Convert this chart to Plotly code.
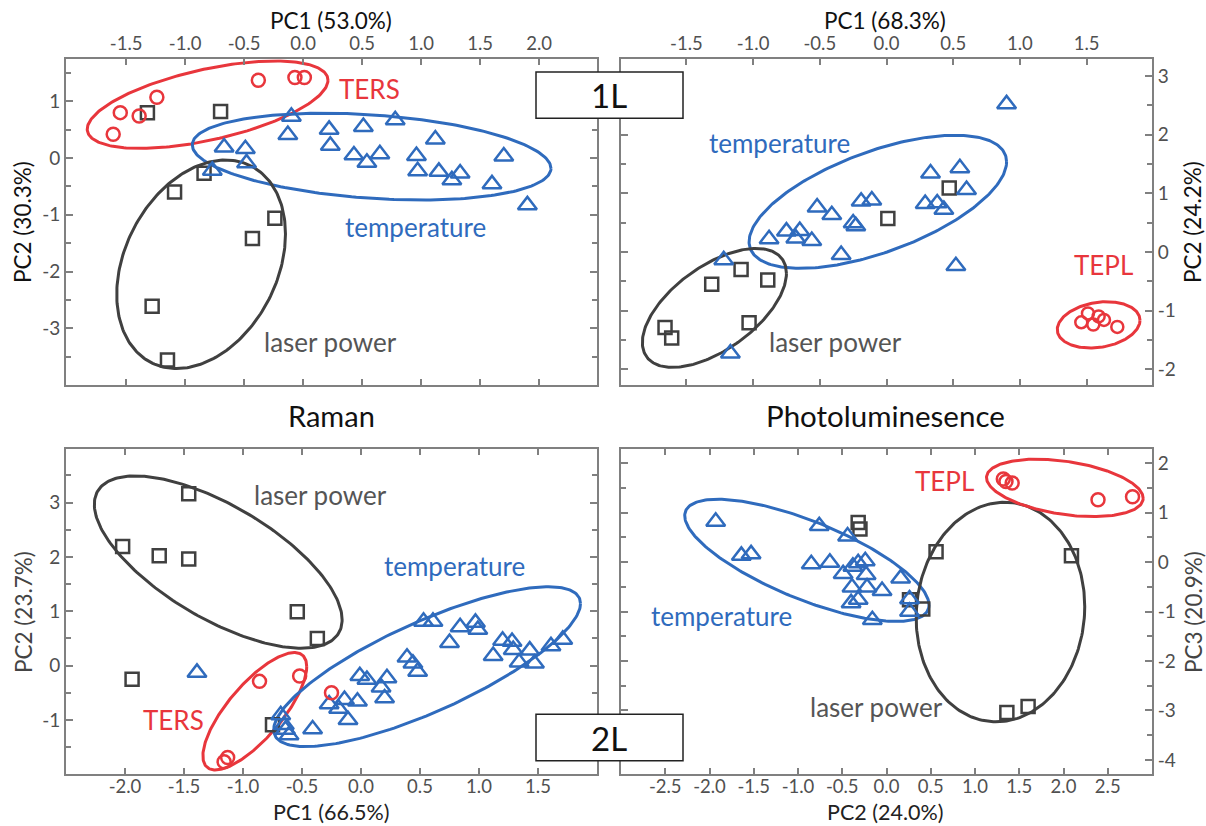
import numpy as np
import plotly.graph_objects as go

# ---------------- data ----------------
# Panel 1: Raman 1L (PC1 vs PC2)
r1_ters_x = [-1.61, -1.55, -1.39, -1.24, -0.38, -0.07, 0.01]
r1_ters_y = [0.42, 0.80, 0.74, 1.07, 1.37, 1.42, 1.42]
r1_laser_x = [-1.32, -0.70, -0.84, -1.09, -0.24, -0.43, -1.28, -1.15]
r1_laser_y = [0.80, 0.82, -0.27, -0.60, -1.06, -1.42, -2.61, -3.56]
r1_temp_x = [-0.10, -0.13, -0.67, -0.49, -0.48, -0.77, 0.22, 0.23, 0.51, 0.78, 0.43,
             0.54, 0.65, 0.96, 0.97, 1.12, 1.15, 1.26, 1.33, 1.70, 1.60, 1.90]
r1_temp_y = [0.73, 0.41, 0.19, 0.16, -0.09, -0.22, 0.50, 0.22, 0.55, 0.67, 0.05,
             -0.08, 0.07, 0.04, -0.23, 0.33, -0.24, -0.39, -0.27, 0.03, -0.46, -0.83]

# Panel 2: Photoluminescence 1L (PC1 vs PC2)
pl1_tepl_x = [1.46, 1.51, 1.55, 1.59, 1.63, 1.73]
pl1_tepl_y = [-1.20, -1.05, -1.24, -1.10, -1.16, -1.28]
pl1_laser_x = [0.47, 0.01, -1.09, -1.31, -0.89, -1.03, -1.66, -1.61]
pl1_laser_y = [1.09, 0.57, -0.30, -0.55, -0.48, -1.21, -1.29, -1.47]
pl1_temp_x = [0.90, 0.33, 0.55, 0.60, 0.29, 0.38, 0.43, -0.19, -0.11, -0.52, -0.41,
              -0.25, -0.23, -0.88, -0.75, -0.68, -0.65, -0.56, -0.34, 0.52, -1.22, -1.17]
pl1_temp_y = [2.52, 1.34, 1.43, 1.06, 0.82, 0.83, 0.72, 0.86, 0.88, 0.76, 0.63,
              0.49, 0.44, 0.22, 0.35, 0.23, 0.36, 0.19, -0.05, -0.24, -0.14, -1.73]

# Panel 3: Raman 2L (PC1 vs PC2)
r2_laser_x = [-1.46, -2.02, -1.71, -1.46, -0.54, -0.37, -1.94, -0.75]
r2_laser_y = [3.16, 2.19, 2.02, 1.96, 0.99, 0.50, -0.25, -1.09]
r2_ters_x = [-0.86, -0.52, -0.25, -1.13, -1.16]
r2_ters_y = [-0.29, -0.19, -0.50, -1.69, -1.77]
r2_temp_x = [-1.39, -0.68, -0.65, -0.64, -0.61, -0.41, -0.27, -0.14, -0.19, -0.11, -0.03,
             -0.01, 0.05, 0.17, 0.22, 0.20, 0.39, 0.44, 0.48, 0.53, 0.61, 0.75, 0.84,
             0.97, 0.99, 1.12, 1.20, 1.28, 1.29, 1.34, 1.43, 1.47, 1.61, 1.71]
r2_temp_y = [-0.13, -0.91, -1.09, -1.18, -1.28, -1.17, -0.71, -0.63, -0.79, -1.00, -0.66,
             -0.19, -0.26, -0.40, -0.23, -0.60, 0.15, 0.04, -0.11, 0.81, 0.81, 0.42, 0.71,
             0.79, 0.66, 0.18, 0.46, 0.44, 0.29, 0.06, 0.28, 0.04, 0.36, 0.48]

# Panel 4: Photoluminescence 2L (PC2 vs PC3)
pl2_tepl_x = [1.32, 1.35, 1.42, 2.39, 2.78]
pl2_tepl_y = [1.68, 1.63, 1.60, 1.26, 1.32]
pl2_laser_x = [-0.32, -0.30, 0.56, 2.09, 0.26, 0.41, 1.36, 1.60]
pl2_laser_y = [0.80, 0.67, 0.21, 0.13, -0.76, -0.95, -3.04, -2.92]
pl2_temp_x = [-1.93, -1.64, -1.53, -0.76, -0.44, -0.85, -0.64, -0.49, -0.38, -0.32, -0.24,
              -0.23, -0.39, -0.22, -0.05, -0.40, -0.32, -0.16, 0.16, 0.26, 0.26]
pl2_temp_y = [0.82, 0.13, 0.16, 0.73, 0.52, -0.04, -0.01, -0.24, -0.09, -0.02, 0.02,
              -0.26, -0.51, -0.51, -0.58, -0.83, -0.76, -1.17, -0.33, -0.75, -1.00]

# Cluster ellipses: [xmin, xmax, ymin, ymax, tilt]
r1_ell_ters = [-1.83, 0.21, 0.17, 1.71, 0.56]
r1_ell_temp = [-0.94, 2.10, -0.74, 0.79, -0.27]
r1_ell_laser = [-1.58, -0.15, -3.71, -0.035, 0.29]
pl1_ell_temp = [-1.03, 0.90, -0.28, 1.99, 0.60]
pl1_ell_laser = [-1.83, -0.75, -1.97, 0.06, 0.58]
pl1_ell_tepl = [1.28, 1.90, -1.64, -0.85, 0.20]
r2_ell_laser = [-2.26, -0.16, 0.32, 3.49, -0.67]
r2_ell_ters = [-1.34, -0.46, -1.92, 0.24, 0.76]
r2_ell_temp = [-0.74, 1.86, -1.49, 1.45, 0.79]
pl2_ell_temp = [-2.28, 0.48, -1.20, 1.27, -0.73]
pl2_ell_laser = [0.335, 2.24, -3.23, 1.21, 0.05]
pl2_ell_tepl = [1.13, 2.90, 0.92, 2.08, -0.36]

# Tick values
p1_xticks = [-1.5, -1.0, -0.5, 0.0, 0.5, 1.0, 1.5, 2.0]
p1_yticks = [-3, -2, -1, 0, 1]
p2_xticks = [-1.5, -1.0, -0.5, 0.0, 0.5, 1.0, 1.5]
p2_yticks = [-2, -1, 0, 1, 2, 3]
p3_xticks = [-2.0, -1.5, -1.0, -0.5, 0.0, 0.5, 1.0, 1.5]
p3_yticks = [-1, 0, 1, 2, 3]
p4_xticks = [-2.5, -2.0, -1.5, -1.0, -0.5, 0.0, 0.5, 1.0, 1.5, 2.0, 2.5]
p4_yticks = [-4, -3, -2, -1, 0, 1, 2]

# ---------------- styling ----------------
RED = "#e8363c"
BLUE = "#2f6bbd"
GRAY = "#404040"
GRAY_TXT = "#555555"
AXIS = "#808080"
TICK_TXT = "#505050"
FONT = "Lato"
W, H = 1206, 826


def px(x):
    return x / W


def py(y):
    return 1 - y / H


def ellipse(b, n=240):
    xmin, xmax, ymin, ymax, s = b
    cx, cy = (xmin + xmax) / 2, (ymin + ymax) / 2
    rx, ry = (xmax - xmin) / 2, (ymax - ymin) / 2
    phi = np.arcsin(s)
    t = np.linspace(0, 2 * np.pi, n)
    return cx + rx * np.cos(t), cy + ry * np.sin(t + phi)


fig = go.Figure()


def add_panel(xa, ya, groups, ells):
    for (ex, col) in ells:
        x, y = ellipse(ex)
        fig.add_trace(go.Scatter(x=x, y=y, mode="lines", xaxis=xa, yaxis=ya,
                                 line=dict(color=col, width=3), hoverinfo="skip",
                                 showlegend=False))
    for (gx, gy, sym, col, size) in groups:
        fig.add_trace(go.Scatter(x=gx, y=gy, mode="markers", xaxis=xa, yaxis=ya,
                                 marker=dict(symbol=sym, size=size, color=col,
                                             line=dict(color=col, width=2.5)),
                                 showlegend=False, cliponaxis=False))


add_panel("x", "y",
          [(r1_laser_x, r1_laser_y, "square-open", GRAY, 13),
           (r1_temp_x, r1_temp_y, "triangle-up-open", BLUE, 16.5),
           (r1_ters_x, r1_ters_y, "circle-open", RED, 13)],
          [(r1_ell_ters, RED), (r1_ell_temp, BLUE), (r1_ell_laser, GRAY)])
add_panel("x2", "y2",
          [(pl1_laser_x, pl1_laser_y, "square-open", GRAY, 13),
           (pl1_temp_x, pl1_temp_y, "triangle-up-open", BLUE, 16.5),
           (pl1_tepl_x, pl1_tepl_y, "circle-open", RED, 12)],
          [(pl1_ell_temp, BLUE), (pl1_ell_laser, GRAY), (pl1_ell_tepl, RED)])
add_panel("x3", "y3",
          [(r2_laser_x, r2_laser_y, "square-open", GRAY, 13),
           (r2_temp_x, r2_temp_y, "triangle-up-open", BLUE, 16.5),
           (r2_ters_x, r2_ters_y, "circle-open", RED, 13)],
          [(r2_ell_laser, GRAY), (r2_ell_ters, RED), (r2_ell_temp, BLUE)])
add_panel("x4", "y4",
          [(pl2_laser_x, pl2_laser_y, "square-open", GRAY, 13),
           (pl2_temp_x, pl2_temp_y, "triangle-up-open", BLUE, 16.5),
           (pl2_tepl_x, pl2_tepl_y, "circle-open", RED, 13)],
          [(pl2_ell_temp, BLUE), (pl2_ell_laser, GRAY), (pl2_ell_tepl, RED)])


def fmt1(v):
    return f"{v:.1f}"


def fmt0(v):
    return f"{v:d}"


def axis_x(domain, rng, ticks, side, anchor):
    return dict(domain=domain, range=rng, side=side, anchor=anchor,
                tickmode="array", tickvals=ticks, ticktext=[fmt1(v) for v in ticks],
                ticks="inside", ticklen=6, tickwidth=1.5, tickcolor=AXIS,
                ticklabelstandoff=(-5 if side == "bottom" else 0),
                showline=True, linecolor=AXIS, linewidth=1.8, mirror="ticks",
                showgrid=False, zeroline=False,
                tickfont=dict(family=FONT, size=18.5, color=TICK_TXT))


def axis_y(domain, rng, ticks, side, anchor):
    minor_vals = [v + 0.5 for v in ticks] + [ticks[0] - 0.5]
    return dict(domain=domain, range=rng, side=side, anchor=anchor,
                tickmode="array", tickvals=ticks, ticktext=[fmt0(v) for v in ticks],
                ticks="inside", ticklen=7, tickwidth=1.5, tickcolor=AXIS,
                minor=dict(tickvals=minor_vals, ticks="inside", ticklen=5,
                           tickwidth=1.5, tickcolor=AXIS),
                showline=True, linecolor=AXIS, linewidth=1.8, mirror="ticks",
                showgrid=False, zeroline=False,
                tickfont=dict(family=FONT, size=19, color=TICK_TXT))


dxL = [px(66), px(597)]
dxR = [px(621), px(1152)]
dyT = [py(385), py(59.3)]
dyB = [py(774.3), py(449.3)]

fig.update_layout(
    width=W, height=H,
    margin=dict(l=0, r=0, t=0, b=0),
    paper_bgcolor="white", plot_bgcolor="white",
    xaxis=axis_x(dxL, [-2.01, 2.49], p1_xticks, "top", "y"),
    yaxis=axis_y(dyT, [-4.0, 1.74], p1_yticks, "left", "x"),
    xaxis2=axis_x(dxR, [-1.99, 1.99], p2_xticks, "top", "y2"),
    yaxis2=axis_y(dyT, [-2.27, 3.285], p2_yticks, "right", "x2"),
    xaxis3=axis_x(dxL, [-2.50, 2.0], p3_xticks, "bottom", "y3"),
    yaxis3=axis_y(dyB, [-2.0, 3.98], p3_yticks, "left", "x3"),
    xaxis4=axis_x(dxR, [-3.0, 3.0], p4_xticks, "bottom", "y4"),
    yaxis4=axis_y(dyB, [-4.29, 2.28], p4_yticks, "right", "x4"),
)

ann = []


def label(text, x, y, xref, yref, color, size=26, angle=0):
    ann.append(dict(text=text, x=x, y=y, xref=xref, yref=yref, showarrow=False,
                    xanchor="center", yanchor="middle", textangle=angle, borderpad=0,
                    font=dict(family=FONT, size=size, color=color)))


# cluster labels
label("TERS", 0.56, 1.21, "x", "y", RED)
label("temperature", 0.95, -1.21, "x", "y", BLUE)
label("laser power", 0.23, -3.24, "x", "y", GRAY_TXT)
label("temperature", -0.80, 1.85, "x2", "y2", BLUE)
label("laser power", -0.38, -1.53, "x2", "y2", GRAY_TXT)
label("TEPL", 1.63, -0.22, "x2", "y2", RED)
label("laser power", -0.34, 3.14, "x3", "y3", GRAY_TXT)
label("temperature", 0.79, 1.84, "x3", "y3", BLUE)
label("TERS", -1.59, -1.0, "x3", "y3", RED)
label("TEPL", 0.66, 1.63, "x4", "y4", RED)
label("temperature", -1.87, -1.09, "x4", "y4", BLUE)
label("laser power", -0.11, -2.92, "x4", "y4", GRAY_TXT)

# axis titles
label("PC1 (53.0%)", px(331), py(20), "paper", "paper", "#111111", 22.5)
label("PC1 (68.3%)", px(885), py(20), "paper", "paper", "#111111", 22.5)
label("PC1 (66.5%)", px(331), py(812), "paper", "paper", "#222222", 21.5)
label("PC2 (24.0%)", px(885), py(812), "paper", "paper", "#222222", 21.5)
label("PC2 (30.3%)", px(23), py(222), "paper", "paper", "#111111", 22.5, -90)
label("PC2 (24.2%)", px(1193), py(222), "paper", "paper", "#111111", 22.5, -90)
label("PC2 (23.7%)", px(23), py(612), "paper", "paper", "#444444", 22.5, -90)
label("PC3 (20.9%)", px(1193), py(612), "paper", "paper", "#444444", 22.5, -90)

# panel titles
label("Raman", px(331), py(415), "paper", "paper", "#111111", 29)
label("Photoluminesence", px(885), py(415), "paper", "paper", "#111111", 29.5)

# layer boxes
shapes = []
for name, y0, y1 in [("1L", 72, 118.3), ("2L", 714.3, 760.7)]:
    shapes.append(dict(type="rect", xref="paper", yref="paper", x0=px(536), x1=px(683),
                       y0=py(y1), y1=py(y0), fillcolor="white",
                       line=dict(color="#222222", width=1.5), layer="above"))
    label(name, px(609.5), py((y0 + y1) / 2), "paper", "paper", "#111111", 33)

fig.update_layout(annotations=ann, shapes=shapes)
fig.write_html("out.html", config={"displayModeBar": False},
               post_script="document.body.style.margin='0px';")
